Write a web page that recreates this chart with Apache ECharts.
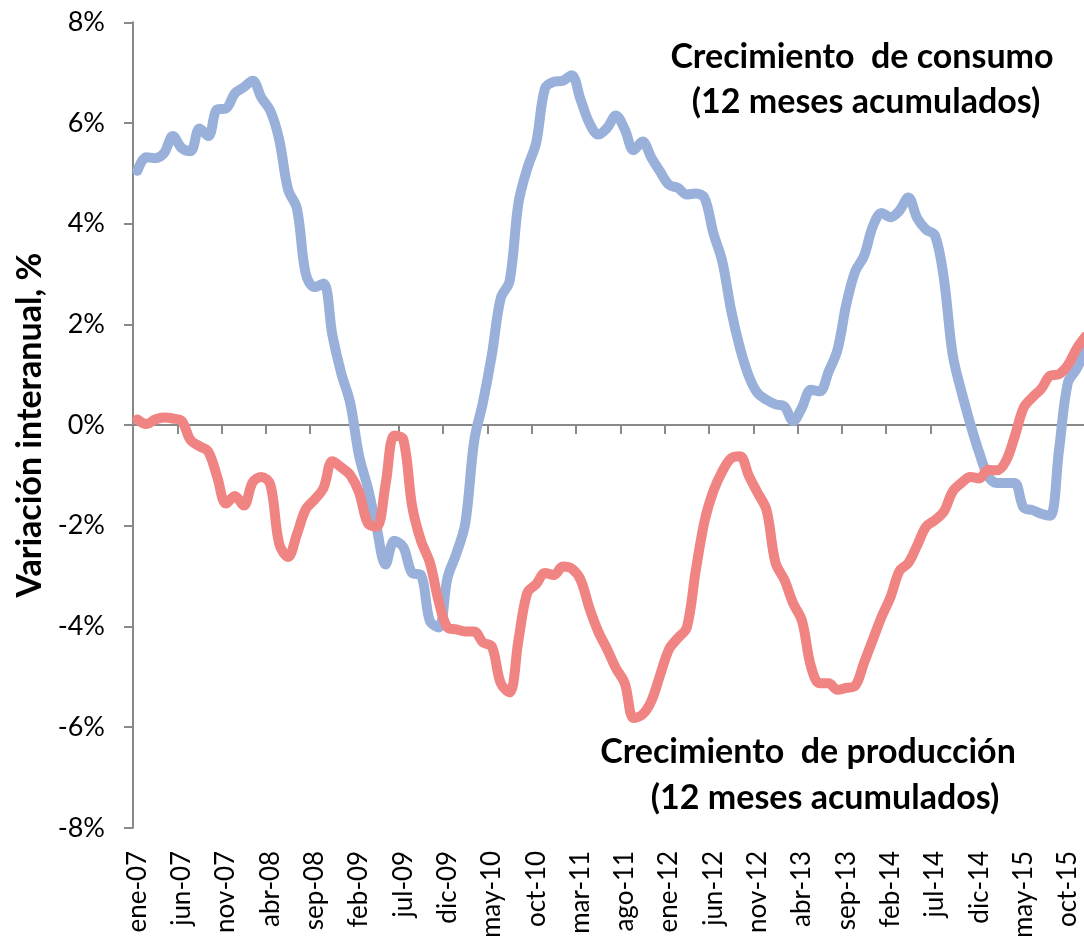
<!DOCTYPE html>
<html>
<head>
<meta charset="utf-8">
<script src="https://cdn.jsdelivr.net/npm/echarts@6/dist/echarts.min.js"></script>
<style>
html,body{margin:0;padding:0;background:#fff;}
#chart{width:1084px;height:936px;}
</style>
</head>
<body>
<div id="chart"></div>
<script>
const categories = [
 'ene-07','feb-07','mar-07','abr-07','may-07','jun-07','jul-07','ago-07','sep-07','oct-07','nov-07','dic-07',
 'ene-08','feb-08','mar-08','abr-08','may-08','jun-08','jul-08','ago-08','sep-08','oct-08','nov-08','dic-08',
 'ene-09','feb-09','mar-09','abr-09','may-09','jun-09','jul-09','ago-09','sep-09','oct-09','nov-09','dic-09',
 'ene-10','feb-10','mar-10','abr-10','may-10','jun-10','jul-10','ago-10','sep-10','oct-10','nov-10','dic-10',
 'ene-11','feb-11','mar-11','abr-11','may-11','jun-11','jul-11','ago-11','sep-11','oct-11','nov-11','dic-11',
 'ene-12','feb-12','mar-12','abr-12','may-12','jun-12','jul-12','ago-12','sep-12','oct-12','nov-12','dic-12',
 'ene-13','feb-13','mar-13','abr-13','may-13','jun-13','jul-13','ago-13','sep-13','oct-13','nov-13','dic-13',
 'ene-14','feb-14','mar-14','abr-14','may-14','jun-14','jul-14','ago-14','sep-14','oct-14','nov-14','dic-14',
 'ene-15','feb-15','mar-15','abr-15','may-15','jun-15','jul-15','ago-15','sep-15','oct-15','nov-15','dic-15'
];

const consumo = [
 5.05, 5.32, 5.30, 5.40, 5.74, 5.50, 5.44, 5.89, 5.74, 6.27, 6.29, 6.59,
 6.71, 6.84, 6.50, 6.24, 5.67, 4.68, 4.30, 3.00, 2.74, 2.81, 1.79, 1.03,
 0.45, -0.60, -1.25, -2.04, -2.77, -2.30, -2.42, -2.94, -2.98, -3.89, -4.02, -3.03,
 -2.55, -1.95, -0.32, 0.46, 1.40, 2.52, 2.86, 4.41, 5.10, 5.61, 6.69, 6.82,
 6.84, 6.95, 6.47, 6.00, 5.77, 5.90, 6.15, 5.87, 5.46, 5.63, 5.31, 5.03,
 4.77, 4.71, 4.58, 4.60, 4.51, 3.81, 3.25, 2.28, 1.53, 0.97, 0.63, 0.50,
 0.41, 0.37, 0.08, 0.35, 0.70, 0.67, 1.06, 1.49, 2.40, 3.05, 3.36, 3.95,
 4.21, 4.13, 4.26, 4.52, 4.11, 3.88, 3.77, 2.92, 1.40, 0.66, 0.02, -0.55,
 -1.01, -1.15, -1.15, -1.15, -1.64, -1.69, -1.76, -1.80, -0.50, 0.84, 1.12, 1.51
];

const produccion = [
 0.11, 0.02, 0.11, 0.15, 0.13, 0.08, -0.30, -0.42, -0.53, -1.03, -1.56, -1.41,
 -1.60, -1.14, -1.03, -1.18, -2.36, -2.62, -2.17, -1.67, -1.48, -1.25, -0.72, -0.84,
 -0.99, -1.33, -1.95, -2.02, -1.18, -0.21, -0.28, -1.61, -2.30, -2.73, -3.50, -4.02,
 -4.06, -4.10, -4.10, -4.32, -4.40, -5.13, -5.31, -4.27, -3.33, -3.16, -2.94, -2.98,
 -2.81, -2.85, -3.07, -3.63, -4.10, -4.45, -4.83, -5.13, -5.82, -5.75, -5.48, -4.96,
 -4.45, -4.23, -4.02, -2.90, -1.91, -1.31, -0.92, -0.66, -0.62, -1.01, -1.35, -1.69,
 -2.73, -3.07, -3.54, -3.89, -4.79, -5.13, -5.13, -5.26, -5.22, -5.18, -4.72, -4.26,
 -3.80, -3.41, -2.90, -2.74, -2.39, -2.02, -1.89, -1.72, -1.32, -1.15, -1.03, -1.06,
 -0.89, -0.90, -0.72, -0.23, 0.34, 0.55, 0.72, 0.98, 1.01, 1.19, 1.52, 1.76
];

const yTicks = {min: -8, max: 8, interval: 2};
const yTitle = 'Variación interanual, %';
const labelConsumo = ['Crecimiento  de consumo', '(12 meses acumulados)'];
const labelProduccion = ['Crecimiento  de producción', '(12 meses acumulados)'];

const axisGray = '#898989';
const chart = echarts.init(document.getElementById('chart'), null, {renderer: 'canvas'});
const annotFont = 'bold 34px Lato';
function txt(t, x, y) {
  return {type: 'text', x: x, y: y, z: 100,
    style: {text: t, font: annotFont, fill: '#000',
      textAlign: 'center', textVerticalAlign: 'middle', align: 'center', verticalAlign: 'middle'}};
}

chart.setOption({
  animation: false,
  backgroundColor: '#fff',
  grid: {left: 133, top: 22.3, width: 957, height: 805.5, containLabel: false, outerBoundsMode: 'none'},
  xAxis: [
    {
      type: 'category', data: categories, boundaryGap: true,
      axisLine: {show: true, onZero: true, lineStyle: {color: axisGray, width: 2}},
      axisTick: {show: true, interval: 4, length: 9, lineStyle: {color: axisGray, width: 2}},
      axisLabel: {show: false},
      splitLine: {show: false}
    },
    {
      type: 'category', data: categories, boundaryGap: true, position: 'bottom',
      axisLine: {show: false, onZero: false},
      axisTick: {show: false},
      axisLabel: {show: true, interval: 4, rotate: 90, margin: 23,
        fontFamily: 'Lato', fontSize: 26, color: '#000'},
      splitLine: {show: false}
    }
  ],
  yAxis: {
    type: 'value', min: yTicks.min, max: yTicks.max, interval: yTicks.interval,
    name: yTitle, nameLocation: 'middle', nameGap: 80,
    nameTextStyle: {fontFamily: 'Lato', fontWeight: 'bold', fontSize: 34, color: '#000'},
    axisLine: {show: true, lineStyle: {color: axisGray, width: 2}},
    axisTick: {show: true, length: 9, lineStyle: {color: axisGray, width: 2}},
    axisLabel: {formatter: '{value}%', margin: 28, fontFamily: 'Lato', fontSize: 27, color: '#000'},
    splitLine: {show: false}
  },
  series: [
    {
      name: 'Consumo', type: 'line', data: consumo, xAxisIndex: 0,
      smooth: 0.35, symbol: 'none',
      lineStyle: {color: '#99B1DA', width: 10, cap: 'round', join: 'round'}
    },
    {
      name: 'Producción', type: 'line', data: produccion, xAxisIndex: 0,
      smooth: 0.35, symbol: 'none',
      lineStyle: {color: '#F08482', width: 10, cap: 'round', join: 'round'}
    }
  ],
  graphic: [
    txt(labelConsumo[0], 862, 57),
    txt(labelConsumo[1], 866, 102),
    txt(labelProduccion[0], 808, 752),
    txt(labelProduccion[1], 825, 798)
  ]
});
</script>
</body>
</html>
